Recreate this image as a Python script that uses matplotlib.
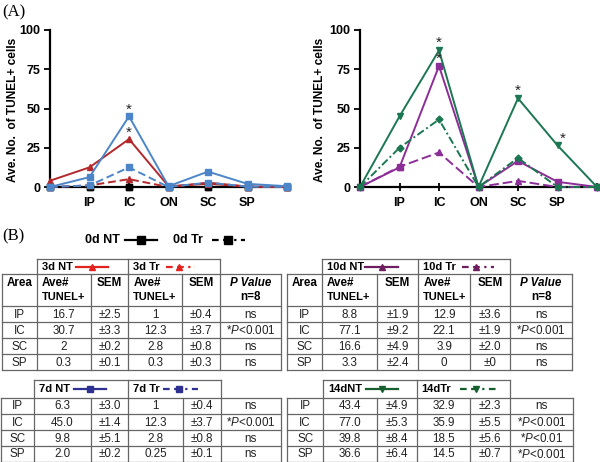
import matplotlib
matplotlib.use('Agg')
import matplotlib.pyplot as plt
from matplotlib.lines import Line2D

plt.rcParams['font.family'] = ['Liberation Sans', 'DejaVu Sans']
plt.rcParams['mathtext.fontset'] = 'custom'
plt.rcParams['mathtext.it'] = 'Liberation Sans:italic'
plt.rcParams['mathtext.rm'] = 'Liberation Sans'
plt.rcParams['mathtext.bf'] = 'Liberation Sans:bold'

# ---------------- chart data ----------------
x_labels = ['', 'IP', 'IC', 'ON', 'SC', 'SP', '']
d0_nt = [0, 0, 0, 0, 0, 0, 0]
d0_tr = [0, 0, 0, 0, 0, 0, 0]
d3_nt = [4, 12.5, 30.5, 0.5, 2, 0.3, 0]
d3_tr = [0, 1, 5, 0, 2.8, 0.3, 0]
d7_nt = [0, 6.3, 45, 0.5, 9.8, 2.0, 0.5]
d7_tr = [0, 1, 12.5, 0, 2.8, 0.25, 0]
d10_nt = [0, 12.5, 77.1, 0, 16.6, 3.3, 0]
d10_tr = [0, 12.9, 22, 0, 3.9, 0, 0]
d14_nt = [0, 45, 87, 0, 56.5, 26.5, 0]
d14_tr = [0, 25, 43, 0, 18.5, 0, 0]
y_ticks = [0, 25, 50, 75, 100]

# ---------------- table data ----------------
t_areas = ['IP', 'IC', 'SC', 'SP']
t3_nt = ['16.7', '30.7', '2', '0.3']
t3_nt_sem = ['±2.5', '±3.3', '±0.2', '±0.1']
t3_tr = ['1', '12.3', '2.8', '0.3']
t3_tr_sem = ['±0.4', '±3.7', '±0.8', '±0.3']
t3_p = ['ns', '*P<0.001', 'ns', 'ns']

t7_nt = ['6.3', '45.0', '9.8', '2.0']
t7_nt_sem = ['±3.0', '±1.4', '±5.1', '±0.2']
t7_tr = ['1', '12.3', '2.8', '0.25']
t7_tr_sem = ['±0.4', '±3.7', '±0.8', '±0.1']
t7_p = ['ns', '*P<0.001', 'ns', 'ns']

t10_nt = ['8.8', '77.1', '16.6', '3.3']
t10_nt_sem = ['±1.9', '±9.2', '±4.9', '±2.4']
t10_tr = ['12.9', '22.1', '3.9', '0']
t10_tr_sem = ['±3.6', '±1.9', '±2.0', '±0']
t10_p = ['ns', '*P<0.001', 'ns', 'ns']

t14_nt = ['43.4', '77.0', '39.8', '36.6']
t14_nt_sem = ['±4.9', '±5.3', '±8.4', '±6.4']
t14_tr = ['32.9', '35.9', '18.5', '14.5']
t14_tr_sem = ['±2.3', '±5.5', '±5.6', '±0.7']
t14_p = ['ns', '*P<0.001', '*P<0.01', '*P<0.001']

RED = '#b3282b'; BLUE = '#4d86c8'; PURPLE = '#8c2e97'; GREEN = '#1b7752'
T_RED = '#e2231f'; T_BLUE = '#2e3192'; T_PURPLE = '#6d1f5f'; T_GREEN = '#17602e'

W, H = 600, 462
fig = plt.figure(figsize=(6, 4.62), dpi=100)

# background axes for tables / labels (pixel coords)
bg = fig.add_axes([0, 0, 1, 1])
bg.set_xlim(0, W); bg.set_ylim(H, 0); bg.axis('off')

def make_chart(left_px, series, stars, ylabel_x):
    ax = fig.add_axes([left_px / W, 1 - 187 / H, 237 / W, 157 / H])
    ax.patch.set_alpha(0)
    xs = list(range(len(x_labels)))
    for vals, color, ls, mk, ms in series:
        ax.plot(xs, vals, color=color, ls=ls, lw=1.4, marker=mk, ms=ms,
                mec=color, mfc=color, clip_on=False, zorder=3)
    ax.set_xlim(0, 6); ax.set_ylim(0, 100)
    ax.set_xticks(xs); ax.set_xticklabels(x_labels, fontweight='bold', fontsize=9)
    ax.set_yticks(y_ticks)
    ax.set_yticklabels([str(v) for v in y_ticks], fontweight='bold', fontsize=9)
    for s in ['top', 'right']:
        ax.spines[s].set_visible(False)
    for s in ['left', 'bottom']:
        ax.spines[s].set_linewidth(1.6)
    ax.tick_params(axis='x', direction='inout', length=6, width=1.3, pad=4)
    ax.tick_params(axis='y', direction='out', length=4, width=1.3, pad=3)
    for sx, sy in stars:
        ax.text(sx, sy, '*', ha='center', va='center', fontsize=11, color='#222222')
    fig.text(ylabel_x / W, 1 - 110 / H, 'Ave. No.  of TUNEL+ cells', rotation=90,
             ha='center', va='center', fontsize=8.6, fontweight='bold')
    return ax

make_chart(50, [
    (d0_nt, 'black', '-', 's', 4),
    (d0_tr, 'black', (0, (4, 2)), 's', 4),
    (d3_tr, RED, (0, (4, 2)), '^', 4),
    (d3_nt, RED, '-', '^', 4),
    (d7_tr, BLUE, (0, (4, 2)), 's', 5),
    (d7_nt, BLUE, '-', 's', 5),
], [(2, 49), (2, 34.5)], 13)

make_chart(360, [
    (d10_tr, PURPLE, (0, (5, 2)), '^', 5),
    (d10_nt, PURPLE, '-', 's', 4.5),
    (d14_tr, GREEN, (0, (4, 1.5, 1, 1.5)), 'D', 3.5),
    (d14_nt, GREEN, '-', 'v', 5),
], [(2, 92), (2, 81.5), (4, 61.5), (5.12, 31)], 320)

fig.text(2 / W, 1 - 12 / H, '(A)', family='Liberation Serif', fontsize=12, va='center')
fig.text(2 / W, 1 - 236 / H, '(B)', family='Liberation Serif', fontsize=12, va='center')

# legend row for 0d
bg.text(85, 240, '0d NT', fontsize=9, fontweight='bold', va='center')
bg.add_line(Line2D([125, 157], [240, 240], color='black', lw=1.6))
bg.add_line(Line2D([141], [240], color='black', marker='s', ms=5.5))
bg.text(173, 240, '0d Tr', fontsize=9, fontweight='bold', va='center')
bg.add_line(Line2D([212, 245], [240, 240], color='black', lw=1.6, ls=(0, (3, 2, 3, 2, 1, 2))))
bg.add_line(Line2D([228], [240], color='black', marker='s', ms=5.5))

LC = '#666666'
FS = 8.4
HFS = 8.0

def ptext(s):
    if s.startswith('*P'):
        return '*$\\mathit{P}$' + s[2:]
    return s

def hline(x0, x1, y):
    bg.add_line(Line2D([x0, x1], [y, y], color=LC, lw=0.9))

def vline(x, y0, y1):
    bg.add_line(Line2D([x, x], [y0, y1], color=LC, lw=0.9))

def draw_table(cols, rows, nt, nt_sem, tr, tr_sem, pv, header_row=None):
    top = header_row[0] if header_row else rows[0]
    for x in cols:
        vline(x, top, rows[-1])
    if header_row:
        hline(cols[0], cols[-1], header_row[0])
        yh1, yh2 = header_row[0] + 9.5, header_row[0] + 23.5
        bg.text((cols[0] + cols[1]) / 2, yh1, 'Area', ha='center', va='center',
                fontsize=FS, fontweight='bold')
        for c in (1, 3):
            bg.text(cols[c] + 5, yh1, 'Ave#', ha='left', va='center', fontsize=FS, fontweight='bold')
            bg.text(cols[c] + 5, yh2, 'TUNEL+', ha='left', va='center', fontsize=8.0,
                    fontweight='bold')
        for c in (2, 4):
            bg.text((cols[c] + cols[c + 1]) / 2, yh1, 'SEM', ha='center', va='center',
                    fontsize=FS, fontweight='bold')
        bg.text((cols[5] + cols[6]) / 2, yh1, 'P Value', ha='center', va='center',
                fontsize=FS, fontweight='bold', style='italic')
        bg.text((cols[5] + cols[6]) / 2, yh2, 'n=8', ha='center', va='center',
                fontsize=FS, fontweight='bold')
    for y in rows:
        hline(cols[0], cols[-1], y)
    for i in range(4):
        yc = (rows[i] + rows[i + 1]) / 2 + 0.5
        cells = [t_areas[i], nt[i], nt_sem[i], tr[i], tr_sem[i], ptext(pv[i])]
        for c, txt in enumerate(cells):
            bg.text((cols[c] + cols[c + 1]) / 2, yc, txt, ha='center', va='center',
                    fontsize=FS, color='#222222')

def header_box(x0, xm, x1, y0, y1, lab1, lab2, color, marker, l1, l2, mk_ms=5):
    hline(x0, x1, y0)
    vline(x0, y0, y1); vline(xm, y0, y1); vline(x1, y0, y1)
    yc = (y0 + y1) / 2
    bg.text(x0 + 5, yc, lab1, fontsize=HFS, fontweight='bold', va='center')
    bg.add_line(Line2D(l1, [yc, yc], color=color, lw=1.6))
    bg.add_line(Line2D([(l1[0] + l1[1]) / 2], [yc], color=color, marker=marker, ms=mk_ms))
    bg.text(xm + 5, yc, lab2, fontsize=HFS, fontweight='bold', va='center')
    bg.add_line(Line2D(l2, [yc, yc], color=color, lw=1.6, ls=(0, (3, 2, 3, 2, 1, 2))))
    bg.add_line(Line2D([(l2[0] + l2[1]) / 2 - 2], [yc], color=color, marker=marker, ms=mk_ms))

# upper-left 3d table
cols_ul = [2, 36.7, 90.7, 128.3, 181.7, 220, 281]
rows_u = [306, 322, 338, 354, 370]
header_box(36.7, 128.3, 220, 259.3, 274, '3d NT', '3d Tr', T_RED, '^', [76, 108], [166, 195])
draw_table(cols_ul, rows_u, t3_nt, t3_nt_sem, t3_tr, t3_tr_sem, t3_p, header_row=[274])

# upper-right 10d table
cols_ur = [287, 321.7, 376.7, 418.3, 470, 510, 572]
header_box(321.7, 418.3, 510, 259.3, 274, '10d NT', '10d Tr', T_PURPLE, '^', [365, 398], [462, 494])
draw_table(cols_ur, rows_u, t10_nt, t10_nt_sem, t10_tr, t10_tr_sem, t10_p, header_row=[274])

# lower-left 7d table
cols_ll = [1, 34, 90.7, 128.3, 182.7, 220.7, 281]
rows_l = [397.7, 414, 430.3, 446.3, 461.5]
header_box(34, 128.3, 220.7, 380, 397.7, '7d NT', '7d Tr', T_BLUE, 's', [74, 106], [163, 198])
draw_table(cols_ll, rows_l, t7_nt, t7_nt_sem, t7_tr, t7_tr_sem, t7_p)

# lower-right 14d table
cols_lr = [287, 323.3, 376.7, 416.7, 470, 510, 573.3]
header_box(323.3, 416.7, 510, 380, 397.7, '14dNT', '14dTr', T_GREEN, 'v', [366, 398], [460, 496])
draw_table(cols_lr, rows_l, t14_nt, t14_nt_sem, t14_tr, t14_tr_sem, t14_p)

fig.savefig('out.png', dpi=100)
